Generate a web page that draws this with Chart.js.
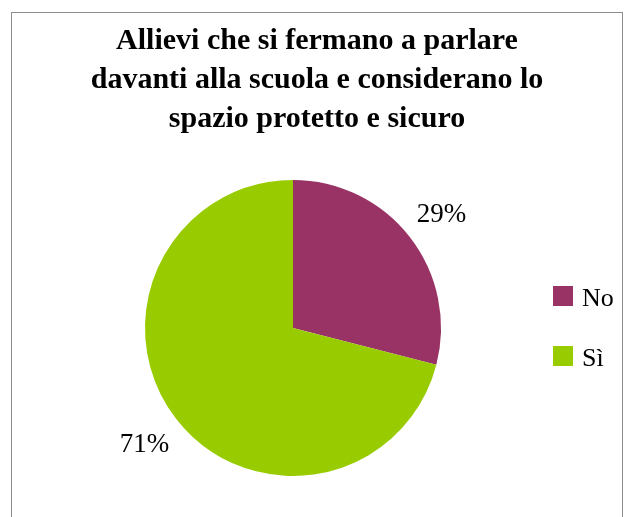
<!DOCTYPE html>
<html>
<head>
<meta charset="utf-8">
<script src="https://cdn.jsdelivr.net/npm/chart.js@4.4.0/dist/chart.umd.min.js"></script>
<style>
  html, body { margin: 0; padding: 0; background: #fff; }
  #wrap { position: relative; width: 627px; height: 517px; overflow: hidden; }
  #frame { position: absolute; left: 11px; top: 12px; width: 612px; height: 520px; border: 1px solid #8c8c8c; box-sizing: border-box; }
  canvas { position: absolute; left: 0; top: 0; }
</style>
</head>
<body>
<div id="wrap">
  <div id="frame"></div>
  <canvas id="chart" width="627" height="517"></canvas>
</div>
<script>
// chart data
const categories = ['No', 'Sì'];
const values = [29, 71];
const colors = ['#993366', '#99CC00'];
const titleLines = ['Allievi che si fermano a parlare', 'davanti alla scuola e considerano lo', 'spazio protetto e sicuro'];

// draws title, percentage labels and the legend
const textPlugin = {
    id: 'textPlugin',
    afterDraw: function(chart) {
        const ctx = chart.ctx;
        ctx.save();
        ctx.fillStyle = '#000';

        // title
        ctx.font = 'bold 30px "Liberation Serif", "Times New Roman", serif';
        ctx.textAlign = 'center';
        ctx.textBaseline = 'alphabetic';
        titleLines.forEach(function(line, i) {
            ctx.fillText(line, 317, 49 + i * 39);
        });

        // percentage labels outside the slices
        const meta = chart.getDatasetMeta(0);
        const total = values.reduce(function(a, b) { return a + b; }, 0);
        ctx.font = '27px "Liberation Serif", "Times New Roman", serif';
        ctx.textBaseline = 'middle';
        meta.data.forEach(function(arc, i) {
            const mid = (arc.startAngle + arc.endAngle) / 2;
            const d = arc.outerRadius * 1.27;
            const x = arc.x + Math.cos(mid) * d;
            const y = arc.y + Math.sin(mid) * d + 2;
            ctx.fillText(Math.round(values[i] / total * 100) + '%', x, y);
        });

        // legend
        ctx.textAlign = 'left';
        ctx.font = '26px "Liberation Serif", "Times New Roman", serif';
        categories.forEach(function(label, i) {
            const y = 286 + i * 60;
            ctx.fillStyle = colors[i];
            ctx.fillRect(553, y, 20, 20);
            ctx.fillStyle = '#000';
            ctx.textBaseline = 'alphabetic';
            ctx.fillText(label, 582, y + 20);
        });
        ctx.restore();
    }
};

new Chart(document.getElementById('chart'), {
    type: 'pie',
    data: {
        labels: categories,
        datasets: [{
            data: values,
            backgroundColor: colors,
            borderWidth: 0
        }]
    },
    options: {
        responsive: false,
        animation: false,
        layout: { padding: { left: 100, right: 141, top: 180, bottom: 41 } },
        plugins: {
            legend: { display: false },
            title: { display: false },
            tooltip: { enabled: false }
        }
    },
    plugins: [textPlugin]
});
</script>
</body>
</html>
